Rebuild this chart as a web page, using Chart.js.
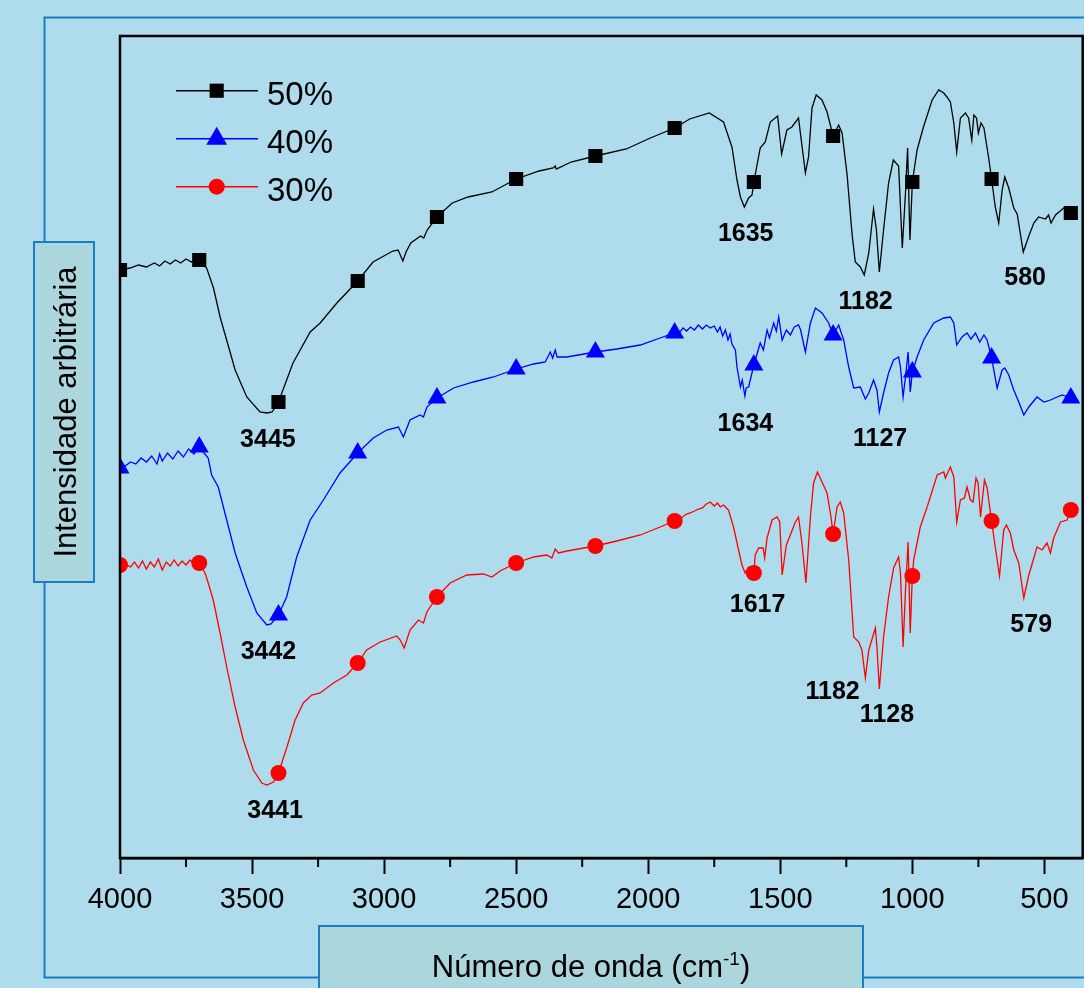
<!DOCTYPE html>
<html>
<head>
<meta charset="utf-8">
<script src="https://cdn.jsdelivr.net/npm/chart.js@4/dist/chart.umd.min.js"></script>
<style>
html,body{margin:0;padding:0;background:#aedcec;}
#wrap{position:relative;width:1084px;height:988px;}
canvas{display:block;}
</style>
</head>
<body>
<div id="wrap"><canvas id="c" width="1084" height="988"></canvas></div>
<script>
// ---------- data (wavenumber in cm-1, intensity in arbitrary units) ----------
const seriesNames = ['50%', '40%', '30%'];

const wn50 = [4000,3962,3930,3900,3870,3850,3830,3810,3790,3770,3750,3730,3715,3700,3672,3646,3621,3564,3520,3470,3444,3424,3400,3345,3280,3242,3179,3100,3042,2967,2947,2929,2917,2899,2862,2850,2837,2800,2742,2682,2592,2500,2413,2360,2352,2348,2292,2200,2083,1992,1900,1843,1769,1715,1683,1664,1651,1636,1620,1607,1600,1576,1557,1538,1510,1495,1475,1456,1431,1423,1405,1393,1380,1364,1342,1323,1300,1279,1266,1247,1228,1216,1197,1182,1165,1147,1136,1125,1109,1090,1072,1052,1038,1026,1018,1009,1000,982,958,925,900,881,869,856,843,832,818,799,787,775,767,757,750,740,729,711,700,686,673,660,650,635,616,603,591,580,559,540,522,496,484,475,458,427,400];
const int50 = [588,590,593,591,595,592,597,594,598,595,599,596,599,598,590,570,541,488,461,446,445,446,456,495,526,535,555,577,596,607,608,597,606,615,622,620,628,641,655,661,666,679,687,690,692,689,696,702,709,720,730,739,745,736,711,678,661,651,660,663,676,710,716,736,742,704,728,731,740,723,685,701,750,763,758,746,722,733,725,683,623,596,591,583,605,649,628,586,628,675,698,692,610,665,710,618,676,708,731,758,768,765,761,756,735,706,740,745,740,718,743,740,725,735,730,700,679,651,635,668,681,670,650,644,624,606,622,635,641,639,643,635,643,650,645];

const wn40 = [4000,3980,3960,3940,3920,3900,3880,3860,3850,3840,3820,3800,3780,3760,3740,3720,3700,3666,3653,3628,3596,3564,3520,3482,3444,3428,3400,3369,3331,3280,3230,3167,3100,3041,2990,2946,2927,2902,2864,2851,2838,2800,2737,2662,2586,2500,2434,2390,2371,2362,2352,2345,2308,2200,2119,2030,1955,1900,1880,1868,1855,1840,1825,1810,1795,1780,1765,1750,1738,1728,1718,1708,1698,1690,1683,1670,1664,1651,1644,1634,1629,1620,1600,1576,1564,1550,1541,1525,1515,1506,1493,1477,1462,1447,1431,1423,1405,1386,1367,1342,1317,1300,1279,1260,1241,1222,1197,1178,1165,1147,1134,1125,1109,1090,1071,1052,1045,1035,1026,1016,1008,1000,982,957,919,881,856,843,832,812,793,778,761,745,729,717,700,679,660,650,635,616,597,578,559,528,502,477,452,433,400];
const int40 = [390,392,396,394,400,396,402,394,404,397,405,399,407,401,409,404,411,400,383,371,338,305,271,245,233,234,243,261,301,338,358,385,405,420,428,431,421,438,443,441,451,460,470,476,481,489,494,496,506,500,508,501,501,506,509,513,520,525,526,530,527,531,528,533,529,533,530,532,526,531,522,528,518,524,514,508,491,471,478,462,470,471,493,515,508,528,520,535,527,541,518,528,523,531,533,528,506,535,550,545,535,523,533,518,491,470,471,459,465,478,468,446,465,485,498,501,491,461,481,506,466,486,501,518,535,540,541,535,513,521,525,519,525,516,523,518,500,470,488,490,483,468,456,443,451,461,456,458,461,463,460];

const wn30 = [4000,3980,3960,3945,3930,3915,3900,3885,3870,3855,3840,3825,3810,3795,3780,3765,3750,3735,3720,3700,3678,3666,3647,3621,3596,3564,3533,3495,3463,3444,3419,3400,3369,3337,3306,3274,3242,3192,3141,3100,3066,3015,2952,2939,2924,2902,2870,2851,2838,2800,2750,2687,2624,2592,2561,2500,2434,2384,2365,2352,2340,2308,2200,2119,2030,1955,1900,1870,1855,1841,1825,1810,1795,1780,1765,1750,1738,1727,1715,1700,1696,1677,1658,1645,1633,1620,1600,1595,1582,1565,1559,1550,1531,1512,1502,1493,1477,1462,1443,1431,1418,1403,1386,1374,1359,1342,1323,1308,1300,1285,1273,1260,1241,1222,1203,1191,1178,1165,1140,1134,1125,1109,1090,1071,1052,1045,1035,1026,1016,1008,1000,995,970,944,906,881,875,856,843,832,818,803,793,780,770,759,751,742,727,717,700,686,670,654,644,629,616,597,578,559,540,528,509,490,477,465,439,414,400];
const int30 = [293,294,291,296,290,297,289,296,291,299,288,296,292,298,292,297,293,298,294,295,285,275,258,225,191,151,118,88,75,73,76,85,110,138,155,163,165,175,183,195,208,216,222,218,210,228,238,235,246,261,275,283,284,281,287,295,301,303,300,309,305,307,312,317,323,331,337,341,344,345,347,349,350,354,356,352,355,351,353,349,348,331,308,293,285,291,285,303,310,310,300,320,338,341,336,283,313,323,336,341,315,275,341,375,386,376,365,341,324,351,356,345,298,221,216,208,180,208,230,211,169,221,261,290,301,285,211,268,316,225,282,298,331,351,383,386,380,391,381,336,358,360,371,358,356,380,375,341,378,370,337,311,282,328,333,325,308,295,260,283,300,311,308,315,305,320,336,338,348];

// symbols are drawn at these wavenumbers
const markerWn = [4000,3700,3400,3100,2800,2500,2200,1900,1600,1300,1000,700,400];

// axis ticks
const xTickValues = [4000,3500,3000,2500,2000,1500,1000,500];
const xTickLabels = ['4000','3500','3000','2500','2000','1500','1000','500'];
const xMinorTicks = [3750,3250,2750,2250,1750,1250,750];

// peak annotations (text, wavenumber, intensity of label centre)
const peakText = ['3445','1635','1182','580','3442','1634','1127','3441','1617','1182','1128','579'];
const peakWn   = [3440,1631,1177,573,3438,1632,1122,3413,1586,1302,1096,550];
const peakInt  = [420,626,558,582,208,436,421,49,255,168,145,235];

// ---------- styling ----------
const FONT = "'Liberation Sans', Arial, sans-serif";
const BG = '#aedcec';
const FRAME = '#1b7cc6';
const BOXFILL = '#acd6dd';
const styles = [
  {color:'#000000', pointStyle:'rect', r:10},
  {color:'#0000ff', pointStyle:'triangle', r:11},
  {color:'#ff0000', pointStyle:'circle', r:8}
];

function pts(w, v){ return w.map((x,i)=>({x:x, y:v[i]})); }
const allData = [pts(wn50,int50), pts(wn40,int40), pts(wn30,int30)];

const datasets = allData.map((d,i)=>({
  label: seriesNames[i],
  data: d,
  borderColor: styles[i].color,
  backgroundColor: styles[i].color,
  borderWidth: 1.3,
  tension: 0,
  pointStyle: styles[i].pointStyle,
  pointBorderWidth: 0,
  pointRadius: ctx => (ctx.raw && markerWn.indexOf(ctx.raw.x) >= 0) ? styles[i].r : 0,
  pointHoverRadius: ctx => (ctx.raw && markerWn.indexOf(ctx.raw.x) >= 0) ? styles[i].r : 0
}));

function drawMarker(ctx, style, x, y, r){
  ctx.beginPath();
  if (style === 'rect'){
    const s = r * Math.SQRT1_2;
    ctx.rect(x - s, y - s, 2*s, 2*s);
  } else if (style === 'triangle'){
    ctx.moveTo(x, y - r);
    ctx.lineTo(x + 0.866*r, y + 0.5*r);
    ctx.lineTo(x - 0.866*r, y + 0.5*r);
    ctx.closePath();
  } else {
    ctx.arc(x, y, r, 0, Math.PI*2);
  }
  ctx.fill();
}

const decor = {
  id: 'decor',
  beforeDraw(chart){
    const ctx = chart.ctx;
    ctx.save();
    ctx.fillStyle = BG;
    ctx.fillRect(0, 0, chart.width, chart.height);
    // outer frame
    ctx.strokeStyle = FRAME;
    ctx.lineWidth = 2;
    ctx.beginPath();
    ctx.moveTo(1084, 17.5);
    ctx.lineTo(44.5, 17.5);
    ctx.lineTo(44.5, 977.5);
    ctx.lineTo(1084, 977.5);
    ctx.stroke();
    ctx.restore();
  },
  afterDatasetsDraw(chart){
    const ctx = chart.ctx;
    const a = chart.chartArea;
    const xs = chart.scales.x, ys = chart.scales.y;
    ctx.save();
    // plot frame
    ctx.strokeStyle = '#000';
    ctx.lineWidth = 2.5;
    ctx.strokeRect(a.left, a.top, a.right - a.left, a.bottom - a.top);
    // minor ticks
    ctx.lineWidth = 2;
    ctx.beginPath();
    xMinorTicks.forEach(v=>{
      const x = xs.getPixelForValue(v);
      ctx.moveTo(x, a.bottom);
      ctx.lineTo(x, a.bottom + 9);
    });
    ctx.stroke();
    // peak labels
    ctx.fillStyle = '#000';
    ctx.font = 'bold 25px ' + FONT;
    ctx.textAlign = 'center';
    ctx.textBaseline = 'alphabetic';
    peakText.forEach((t,i)=>{
      const x = xs.getPixelForValue(peakWn[i]);
      const y = ys.getPixelForValue(peakInt[i]);
      ctx.fillText(t, x, y + 9);
    });
    // legend
    const rows = [90.7, 138.7, 186.7];
    const legR = [10, 12, 8];
    seriesNames.forEach((n,i)=>{
      const y = rows[i];
      ctx.strokeStyle = styles[i].color;
      ctx.lineWidth = 1.5;
      ctx.beginPath();
      ctx.moveTo(176, y);
      ctx.lineTo(258, y);
      ctx.stroke();
      ctx.fillStyle = styles[i].color;
      drawMarker(ctx, styles[i].pointStyle, 216.7, y, legR[i]);
      ctx.fillStyle = '#000';
      ctx.font = '33px ' + FONT;
      ctx.textAlign = 'left';
      ctx.fillText(n, 267, y + 14);
    });
    ctx.restore();
  },
  afterDraw(chart){
    const ctx = chart.ctx;
    ctx.save();
    // y title box
    ctx.fillStyle = BOXFILL;
    ctx.strokeStyle = FRAME;
    ctx.lineWidth = 2;
    ctx.fillRect(34, 242, 60, 340);
    ctx.strokeRect(34, 242, 60, 340);
    ctx.translate(76, 412);
    ctx.rotate(-Math.PI/2);
    ctx.fillStyle = '#000';
    ctx.font = '31px ' + FONT;
    ctx.textAlign = 'center';
    ctx.textBaseline = 'alphabetic';
    ctx.fillText('Intensidade arbitrária', 0, 0);
    ctx.restore();
    // x title box
    ctx.save();
    ctx.fillStyle = BOXFILL;
    ctx.strokeStyle = FRAME;
    ctx.lineWidth = 2;
    ctx.fillRect(319, 926, 544, 70);
    ctx.strokeRect(319, 926, 544, 70);
    ctx.fillStyle = '#000';
    ctx.textBaseline = 'alphabetic';
    ctx.textAlign = 'left';
    const big = '31px ' + FONT, small = '19px ' + FONT;
    const t1 = 'Número de onda (cm', t2 = '-1', t3 = ')';
    ctx.font = big; const w1 = ctx.measureText(t1).width, w3 = ctx.measureText(t3).width;
    ctx.font = small; const w2 = ctx.measureText(t2).width;
    let x = 591 - (w1 + w2 + w3)/2;
    const base = 977;
    ctx.font = big; ctx.fillText(t1, x, base); x += w1;
    ctx.font = small; ctx.fillText(t2, x, base - 12); x += w2;
    ctx.font = big; ctx.fillText(t3, x, base);
    ctx.restore();
  }
};

new Chart(document.getElementById('c'), {
  type: 'line',
  data: { datasets: datasets },
  options: {
    responsive: false,
    animation: false,
    devicePixelRatio: 1,
    events: [],
    layout: { autoPadding: false, padding: { left: 120, top: 36, right: 1.3, bottom: 0 } },
    plugins: { legend: { display: false }, tooltip: { enabled: false } },
    scales: {
      x: {
        type: 'linear',
        reverse: true,
        min: 355,
        max: 4000,
        afterBuildTicks: s => { s.ticks = xTickValues.map(v => ({ value: v })); },
        afterFit: s => { s.height = 130; s.paddingLeft = 0; s.paddingRight = 0; },
        ticks: {
          autoSkip: false,
          maxRotation: 0,
          padding: 9,
          color: '#000',
          font: { family: FONT, size: 29 },
          callback: v => { const i = xTickValues.indexOf(v); return i >= 0 ? xTickLabels[i] : ''; }
        },
        grid: { drawOnChartArea: false, drawTicks: true, tickLength: 16, tickWidth: 2, tickColor: '#000', color: '#000' },
        border: { display: true, color: '#000', width: 2.5 }
      },
      y: {
        type: 'linear',
        display: false,
        min: 0,
        max: 822
      }
    }
  },
  plugins: [decor]
});
</script>
</body>
</html>
